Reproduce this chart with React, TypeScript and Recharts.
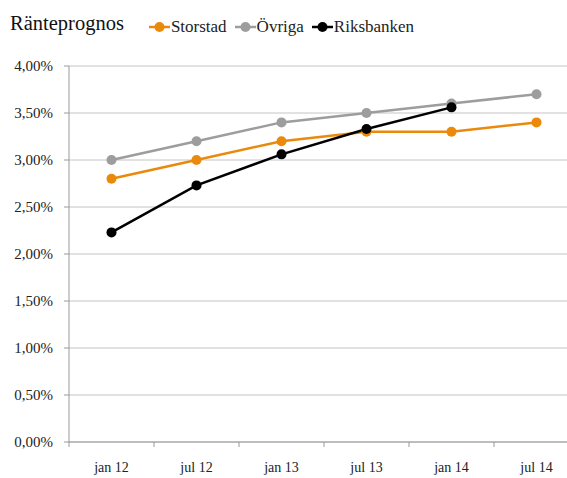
import React from 'react';
import { LineChart, Line, XAxis, YAxis, CartesianGrid, Legend } from 'recharts';

const categories = ['jan 12', 'jul 12', 'jan 13', 'jul 13', 'jan 14', 'jul 14'];
const storstad = [2.8, 3.0, 3.2, 3.3, 3.3, 3.4];
const ovriga = [3.0, 3.2, 3.4, 3.5, 3.6, 3.7];
const riksbanken = [2.23, 2.73, 3.06, 3.33, 3.56, null];
const yTicks = [0, 0.5, 1, 1.5, 2, 2.5, 3, 3.5, 4];

const data = categories.map((c, i) => ({
    i,
    name: c,
    storstad: storstad[i],
    ovriga: ovriga[i],
    riksbanken: riksbanken[i]
}));

const xTicks: number[] = [];
for (let k = -0.5; k <= categories.length - 0.5; k += 0.5) xTicks.push(k);

const series = [
    { key: 'storstad', name: 'Storstad', color: '#ea8a0c' },
    { key: 'ovriga', name: 'Övriga', color: '#9d9d9d' },
    { key: 'riksbanken', name: 'Riksbanken', color: '#000000' }
];

const FONT = "Liberation Serif, Times New Roman, DejaVu Serif, serif";

const XTick = (props: any) => {
    const { x, y, payload } = props;
    const v = payload.value;
    if (Number.isInteger(v)) {
        return (
            <text x={x} y={y + 30} textAnchor="middle" fontSize={14} fontFamily={FONT} fill="#222">
                {categories[v]}
            </text>
        );
    }
    return <line x1={x} x2={x} y1={y} y2={y + 5} stroke="#999" strokeWidth={1} />;
};

const LegendContent = () => (
    <div style={{ display: 'flex', alignItems: 'center', fontFamily: FONT, whiteSpace: 'nowrap' }}>
        <span style={{ fontSize: 20.5, color: '#111', marginRight: 25 }}>Ränteprognos</span>
        {series.map((s) => (
            <span
                key={s.key}
                style={{ display: 'flex', alignItems: 'center', marginRight: 8, fontSize: 17, color: '#222', position: 'relative', top: 3 }}
            >
                <svg width={21} height={12} style={{ marginRight: 1 }}>
                    <line x1={0} x2={21} y1={6} y2={6} stroke={s.color} strokeWidth={2.5} />
                    <circle cx={10.5} cy={6} r={5} fill={s.color} />
                </svg>
                {s.name}
            </span>
        ))}
    </div>
);

export default function App() {
    return (
        <div style={{ position: 'absolute', left: 0, top: 0, width: 567, height: 478, overflow: 'hidden', background: '#fff' }}>
            <LineChart width={600} height={478} data={data} margin={{ top: 66, right: 21, bottom: 6, left: 9 }}>
                <CartesianGrid horizontal vertical={false} stroke="#c4c4c4" strokeWidth={1} />
                <XAxis
                    dataKey="i"
                    type="number"
                    domain={[-0.5, categories.length - 0.5]}
                    ticks={xTicks}
                    interval={0}
                    height={30}
                    tickLine={false}
                    tickSize={0}
                    tickMargin={0}
                    tick={<XTick />}
                    axisLine={{ stroke: '#999' }}
                />
                <YAxis
                    domain={[0, 4]}
                    ticks={yTicks}
                    width={60}
                    tickSize={5}
                    tickMargin={11}
                    tickFormatter={(v: number) => v.toFixed(2).replace('.', ',') + '%'}
                    tick={{ fontSize: 15, fontFamily: FONT, fill: '#222' }}
                    axisLine={{ stroke: '#999' }}
                    tickLine={{ stroke: '#999' }}
                />
                <Legend
                    layout="vertical"
                    verticalAlign="middle"
                    align="center"
                    content={<LegendContent />}
                    wrapperStyle={{ position: 'absolute', top: 12, left: 10, width: 520 }}
                />
                {series.map((s) => (
                    <Line
                        key={s.key}
                        dataKey={s.key}
                        name={s.name}
                        stroke={s.color}
                        strokeWidth={2.5}
                        dot={{ r: 5, fill: s.color, stroke: s.color, strokeWidth: 0 }}
                        activeDot={false}
                        isAnimationActive={false}
                        connectNulls={false}
                    />
                ))}
            </LineChart>
        </div>
    );
}
